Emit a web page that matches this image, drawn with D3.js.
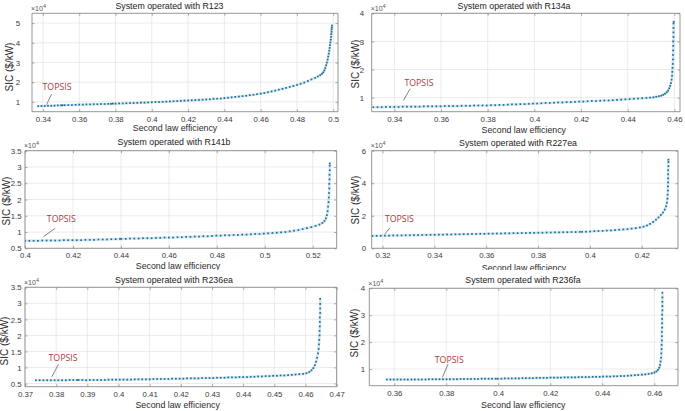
<!DOCTYPE html>
<html><head><meta charset="utf-8">
<script src="https://cdn.jsdelivr.net/npm/d3@7"></script>
<style>body{margin:0;background:#fff;} svg{display:block;}</style>
</head><body><svg id="c" width="685" height="411"></svg>
<script>
// ---------- DATA ----------
const titles = ["System operated with R123","System operated with R134a","System operated with R141b",
                "System operated with R227ea","System operated with R236ea","System operated with R236fa"];
const xLabel = "Second law efficiency";
const yLabel = "SIC ($/kW)";
const topsisLabel = "TOPSIS";
const xLimits = [[0.334,0.5026],[0.3303,0.4624],[0.4,0.53],[0.3158,0.434],[0.37,0.47],[0.3504,0.4691]];
const yLimits = [[0.5,5.5],[0.5,4],[0.5,3.5],[0,6],[0.4,3.5],[0.38,4]];
const xTickVals = [
  [0.34,0.36,0.38,0.40,0.42,0.44,0.46,0.48,0.50],
  [0.34,0.36,0.38,0.40,0.42,0.44,0.46],
  [0.40,0.42,0.44,0.46,0.48,0.50,0.52],
  [0.32,0.34,0.36,0.38,0.40,0.42],
  [0.37,0.38,0.39,0.40,0.41,0.42,0.43,0.44,0.45,0.46,0.47],
  [0.36,0.38,0.40,0.42,0.44,0.46]];
const yTickVals = [[1,2,3,4,5],[1,2,3,4],[0.5,1,1.5,2,2.5,3,3.5],[0,2,4,6],[0.5,1,1.5,2,2.5,3,3.5],[1,2,3,4]];
// SIC values in units of 1e4 $/kW
const r123 = [[0.3374,0.78],[0.3392,0.79],[0.3410,0.79],[0.3428,0.80],[0.3446,0.80],[0.3464,0.81],[0.3482,0.82],[0.3500,0.82],[0.3508,0.83],[0.3520,0.83],[0.3540,0.84],[0.3560,0.84],[0.3580,0.85],[0.3600,0.86],[0.3620,0.86],[0.3640,0.87],[0.3660,0.87],[0.3680,0.88],[0.3700,0.88],[0.3720,0.89],[0.3740,0.89],[0.3760,0.90],[0.3775,0.90],[0.3785,0.91],[0.3800,0.91],[0.3820,0.92],[0.3840,0.92],[0.3860,0.93],[0.3880,0.94],[0.3900,0.94],[0.3920,0.95],[0.3940,0.96],[0.3960,0.96],[0.3980,0.97],[0.4000,0.98],[0.4020,0.99],[0.4040,0.99],[0.4060,1.00],[0.4080,1.01],[0.4100,1.02],[0.4120,1.03],[0.4140,1.04],[0.4160,1.05],[0.4180,1.06],[0.4200,1.07],[0.4220,1.08],[0.4240,1.09],[0.4260,1.10],[0.4280,1.11],[0.4300,1.12],[0.4320,1.13],[0.4340,1.15],[0.4360,1.16],[0.4380,1.17],[0.4400,1.19],[0.4420,1.21],[0.4440,1.23],[0.4460,1.25],[0.4480,1.27],[0.4500,1.29],[0.4520,1.31],[0.4540,1.34],[0.4560,1.36],[0.4580,1.39],[0.4600,1.42],[0.4620,1.45],[0.4640,1.49],[0.4660,1.53],[0.4680,1.57],[0.4700,1.62],[0.4720,1.66],[0.4740,1.71],[0.4760,1.76],[0.4780,1.81],[0.4800,1.86],[0.4820,1.92],[0.4840,1.98],[0.4860,2.06],[0.4880,2.14],[0.4900,2.22],[0.4915,2.29],[0.4928,2.36],[0.4938,2.43],[0.4945,2.50],[0.4951,2.60],[0.4956,2.72],[0.4961,2.86],[0.4965,3.00],[0.4969,3.15],[0.4972,3.30],[0.4975,3.45],[0.4978,3.60],[0.4980,3.74],[0.4982,3.88],[0.4984,4.02],[0.4986,4.16],[0.4988,4.30],[0.4989,4.44],[0.4990,4.56],[0.4991,4.68],[0.4992,4.78],[0.4993,4.88]];
const r134a = [[0.3310,0.66],[0.3328,0.66],[0.3346,0.66],[0.3364,0.67],[0.3382,0.67],[0.3400,0.67],[0.3418,0.67],[0.3436,0.68],[0.3454,0.68],[0.3472,0.68],[0.3490,0.68],[0.3508,0.68],[0.3526,0.69],[0.3544,0.69],[0.3562,0.69],[0.3580,0.69],[0.3598,0.69],[0.3616,0.70],[0.3634,0.70],[0.3652,0.70],[0.3670,0.70],[0.3688,0.71],[0.3706,0.71],[0.3724,0.71],[0.3742,0.72],[0.3760,0.72],[0.3778,0.72],[0.3796,0.72],[0.3814,0.73],[0.3832,0.73],[0.3850,0.74],[0.3868,0.74],[0.3886,0.75],[0.3904,0.76],[0.3922,0.76],[0.3940,0.77],[0.3958,0.77],[0.3976,0.78],[0.3994,0.79],[0.4012,0.79],[0.4030,0.80],[0.4048,0.81],[0.4066,0.81],[0.4084,0.82],[0.4102,0.83],[0.4120,0.83],[0.4138,0.84],[0.4156,0.84],[0.4174,0.85],[0.4192,0.86],[0.4210,0.86],[0.4228,0.87],[0.4246,0.88],[0.4264,0.88],[0.4282,0.89],[0.4300,0.90],[0.4318,0.90],[0.4336,0.91],[0.4354,0.92],[0.4372,0.93],[0.4390,0.94],[0.4408,0.95],[0.4426,0.96],[0.4444,0.97],[0.4462,0.98],[0.4480,0.99],[0.4496,1.00],[0.4510,1.01],[0.4522,1.03],[0.4533,1.05],[0.4543,1.07],[0.4552,1.10],[0.4560,1.14],[0.4567,1.19],[0.4573,1.25],[0.4578,1.33],[0.4582,1.42],[0.4585,1.52],[0.4588,1.64],[0.4590,1.78],[0.4591,1.92],[0.4592,2.06],[0.4593,2.20],[0.4594,2.36],[0.4594,2.52],[0.4595,2.68],[0.4595,2.84],[0.4595,3.00],[0.4596,3.16],[0.4596,3.32],[0.4596,3.48],[0.4596,3.64],[0.4597,3.70]];
const r141b = [[0.4000,0.73],[0.4018,0.73],[0.4036,0.73],[0.4054,0.73],[0.4072,0.74],[0.4090,0.74],[0.4108,0.74],[0.4126,0.74],[0.4144,0.74],[0.4162,0.75],[0.4180,0.75],[0.4198,0.75],[0.4216,0.75],[0.4234,0.75],[0.4252,0.76],[0.4270,0.76],[0.4288,0.76],[0.4306,0.77],[0.4324,0.77],[0.4342,0.77],[0.4360,0.78],[0.4378,0.78],[0.4396,0.79],[0.4402,0.79],[0.4420,0.79],[0.4438,0.80],[0.4456,0.80],[0.4474,0.80],[0.4492,0.81],[0.4510,0.81],[0.4528,0.81],[0.4546,0.82],[0.4564,0.82],[0.4582,0.83],[0.4600,0.83],[0.4618,0.83],[0.4636,0.84],[0.4654,0.84],[0.4672,0.85],[0.4690,0.85],[0.4708,0.86],[0.4726,0.86],[0.4744,0.87],[0.4762,0.87],[0.4780,0.88],[0.4798,0.89],[0.4816,0.89],[0.4834,0.90],[0.4852,0.90],[0.4870,0.91],[0.4888,0.91],[0.4906,0.92],[0.4924,0.92],[0.4942,0.93],[0.4960,0.94],[0.4978,0.94],[0.4996,0.95],[0.5014,0.96],[0.5032,0.97],[0.5050,0.98],[0.5068,0.99],[0.5086,1.00],[0.5104,1.02],[0.5122,1.04],[0.5140,1.06],[0.5158,1.09],[0.5176,1.12],[0.5194,1.15],[0.5212,1.19],[0.5228,1.23],[0.5240,1.28],[0.5249,1.34],[0.5255,1.42],[0.5259,1.52],[0.5262,1.64],[0.5264,1.78],[0.5266,1.92],[0.5267,2.06],[0.5268,2.20],[0.5269,2.34],[0.5269,2.48],[0.5270,2.62],[0.5270,2.76],[0.5271,2.90],[0.5271,3.04],[0.5271,3.11]];
const r227ea = [[0.3161,0.76],[0.3177,0.77],[0.3193,0.77],[0.3209,0.78],[0.3225,0.78],[0.3241,0.79],[0.3257,0.79],[0.3273,0.79],[0.3289,0.80],[0.3305,0.80],[0.3321,0.81],[0.3337,0.81],[0.3353,0.82],[0.3369,0.82],[0.3385,0.83],[0.3401,0.83],[0.3417,0.84],[0.3433,0.84],[0.3449,0.85],[0.3465,0.85],[0.3481,0.86],[0.3497,0.86],[0.3513,0.87],[0.3529,0.87],[0.3545,0.88],[0.3561,0.88],[0.3577,0.89],[0.3593,0.89],[0.3609,0.90],[0.3625,0.90],[0.3641,0.91],[0.3657,0.91],[0.3673,0.92],[0.3689,0.92],[0.3705,0.93],[0.3721,0.93],[0.3737,0.94],[0.3753,0.94],[0.3769,0.95],[0.3785,0.95],[0.3801,0.96],[0.3817,0.96],[0.3833,0.97],[0.3849,0.97],[0.3865,0.98],[0.3881,0.98],[0.3897,0.99],[0.3913,0.99],[0.3929,1.00],[0.3945,1.00],[0.3961,1.01],[0.3970,1.01],[0.3985,1.02],[0.4001,1.03],[0.4017,1.05],[0.4033,1.06],[0.4049,1.07],[0.4065,1.09],[0.4081,1.10],[0.4097,1.12],[0.4113,1.14],[0.4129,1.16],[0.4145,1.18],[0.4161,1.21],[0.4177,1.24],[0.4193,1.28],[0.4207,1.33],[0.4220,1.40],[0.4232,1.50],[0.4244,1.62],[0.4255,1.76],[0.4265,1.90],[0.4274,2.05],[0.4282,2.20],[0.4289,2.38],[0.4294,2.58],[0.4297,2.80],[0.4299,3.05],[0.4300,3.30],[0.4301,3.55],[0.4301,3.80],[0.4302,4.05],[0.4302,4.30],[0.4302,4.55],[0.4302,4.80],[0.4303,5.05],[0.4303,5.30],[0.4303,5.45]];
const r236ea = [[0.3735,0.60],[0.3747,0.60],[0.3759,0.60],[0.3771,0.60],[0.3783,0.60],[0.3795,0.60],[0.3807,0.60],[0.3819,0.60],[0.3831,0.60],[0.3843,0.61],[0.3855,0.61],[0.3867,0.61],[0.3872,0.61],[0.3884,0.61],[0.3896,0.60],[0.3908,0.61],[0.3920,0.61],[0.3932,0.61],[0.3944,0.61],[0.3956,0.61],[0.3968,0.62],[0.3980,0.62],[0.3992,0.62],[0.4004,0.62],[0.4016,0.62],[0.4028,0.62],[0.4040,0.62],[0.4052,0.63],[0.4064,0.63],[0.4076,0.63],[0.4088,0.63],[0.4100,0.63],[0.4112,0.64],[0.4124,0.64],[0.4136,0.64],[0.4148,0.64],[0.4160,0.64],[0.4172,0.65],[0.4184,0.65],[0.4196,0.65],[0.4208,0.65],[0.4220,0.66],[0.4232,0.66],[0.4244,0.66],[0.4256,0.66],[0.4268,0.67],[0.4280,0.67],[0.4292,0.67],[0.4304,0.67],[0.4316,0.68],[0.4328,0.68],[0.4340,0.68],[0.4352,0.69],[0.4364,0.69],[0.4376,0.69],[0.4388,0.70],[0.4400,0.70],[0.4412,0.70],[0.4424,0.71],[0.4436,0.71],[0.4448,0.72],[0.4460,0.72],[0.4472,0.73],[0.4484,0.73],[0.4496,0.74],[0.4508,0.74],[0.4520,0.75],[0.4532,0.75],[0.4544,0.76],[0.4556,0.77],[0.4568,0.78],[0.4580,0.79],[0.4592,0.80],[0.4603,0.82],[0.4612,0.86],[0.4619,0.91],[0.4625,0.98],[0.4630,1.07],[0.4634,1.18],[0.4637,1.30],[0.4640,1.44],[0.4642,1.58],[0.4643,1.72],[0.4644,1.86],[0.4645,2.00],[0.4645,2.14],[0.4646,2.28],[0.4646,2.42],[0.4646,2.56],[0.4647,2.70],[0.4647,2.84],[0.4647,2.98],[0.4647,3.14]];
const r236fa = [[0.3571,0.61],[0.3585,0.61],[0.3598,0.61],[0.3612,0.61],[0.3625,0.61],[0.3639,0.61],[0.3652,0.61],[0.3666,0.61],[0.3679,0.61],[0.3693,0.61],[0.3706,0.61],[0.3720,0.61],[0.3733,0.62],[0.3747,0.62],[0.3760,0.62],[0.3774,0.62],[0.3787,0.62],[0.3801,0.62],[0.3814,0.62],[0.3828,0.62],[0.3841,0.62],[0.3855,0.63],[0.3868,0.63],[0.3882,0.63],[0.3895,0.63],[0.3909,0.63],[0.3922,0.63],[0.3936,0.64],[0.3949,0.64],[0.3963,0.64],[0.3976,0.64],[0.3990,0.64],[0.3998,0.64],[0.4012,0.64],[0.4025,0.65],[0.4039,0.65],[0.4052,0.65],[0.4066,0.65],[0.4079,0.65],[0.4093,0.66],[0.4106,0.66],[0.4120,0.66],[0.4133,0.66],[0.4147,0.67],[0.4160,0.67],[0.4174,0.67],[0.4187,0.67],[0.4201,0.68],[0.4214,0.68],[0.4228,0.68],[0.4241,0.68],[0.4255,0.69],[0.4268,0.69],[0.4282,0.69],[0.4295,0.69],[0.4309,0.70],[0.4322,0.70],[0.4336,0.70],[0.4349,0.70],[0.4363,0.71],[0.4376,0.71],[0.4390,0.71],[0.4403,0.72],[0.4417,0.72],[0.4430,0.72],[0.4444,0.73],[0.4457,0.73],[0.4471,0.74],[0.4484,0.74],[0.4498,0.75],[0.4511,0.76],[0.4525,0.77],[0.4538,0.78],[0.4552,0.79],[0.4565,0.80],[0.4578,0.82],[0.4590,0.84],[0.4600,0.87],[0.4608,0.91],[0.4614,0.97],[0.4619,1.05],[0.4622,1.15],[0.4624,1.28],[0.4626,1.42],[0.4627,1.58],[0.4628,1.74],[0.4628,1.90],[0.4629,2.06],[0.4629,2.22],[0.4629,2.38],[0.4630,2.54],[0.4630,2.70],[0.4630,2.86],[0.4630,3.02],[0.4631,3.18],[0.4631,3.34],[0.4631,3.50],[0.4631,3.66],[0.4631,3.84]];
const seriesList = [r123, r134a, r141b, r227ea, r236ea, r236fa];
const topsisPts = [[0.3420,0.80],[0.3439,0.67],[0.4077,0.74],[0.3209,0.78],[0.3786,0.60],[0.3785,0.62]];

// ---------- LAYOUT (pixels) ----------
const layout = [
 {x0:32,   x1:338,   y0:13.3,  y1:111.7, tX:169.5, tY:9,     xlX:175,   xlY:130.5, ylX:10,  ylY:67,  gap:12,  clip:[0,0,346,135],     line:[0,-1,5,-11.7],    txt:[-4,-15.3]},
 {x0:371.7,x1:680,   y0:13.3,  y1:111.7, tX:514,   tY:9,     xlX:523.8, xlY:133,   ylX:356, ylY:64,  gap:7.7, clip:[346,0,339,135],   line:[0,-6.5,6.7,-18.2], txt:[1,-20.5]},
 {x0:25,   x1:336.7, y0:150.7, y1:248.3, tX:174,   tY:144.5, xlX:178,   xlY:268.5, ylX:6.3, ylY:201, gap:3.5, clip:[0,135,346,135],   line:[0,-3.8,11.7,-12.2],txt:[3.4,-18.2]},
 {x0:371.7,x1:678,   y0:150.7, y1:248.3, tX:518,   tY:145.5, xlX:524,   xlY:270.5, ylX:356, ylY:200, gap:5.7, clip:[346,135,339,135], line:[0,-1.6,5,-7.9],    txt:[0,-13.3]},
 {x0:25,   x1:336.7, y0:287.3, y1:386.7, tX:174,   tY:282.5, xlX:177.7, xlY:407.5, ylX:5,   ylY:341, gap:3.5, clip:[0,270,346,141],   line:[0,-3.4,6.7,-16.1], txt:[-3.3,-19.4]},
 {x0:369.3,x1:678,   y0:288.3, y1:385.7, tX:523,   tY:283,   xlX:523.3, xlY:407.5, ylX:355, ylY:333, gap:4.3, clip:[346,270,339,141], line:[0,-1.9,5.7,-15.2], txt:[-7.6,-16.5]}
];

const FONT = "'Liberation Sans', Arial, Helvetica, sans-serif";
const svg = d3.select("#c");
svg.append("rect").attr("width",685).attr("height",411).attr("fill","#fff");
const defs = svg.append("defs");
const fmt = v => String(+v.toFixed(4));

layout.forEach((L, i) => {
  defs.append("clipPath").attr("id","clip"+i).append("rect")
    .attr("x",L.clip[0]).attr("y",L.clip[1]).attr("width",L.clip[2]).attr("height",L.clip[3]);
  defs.append("clipPath").attr("id","plot"+i).append("rect")
    .attr("x",L.x0).attr("y",L.y0).attr("width",L.x1-L.x0).attr("height",L.y1-L.y0);
  const g = svg.append("g").attr("clip-path",`url(#clip${i})`);
  const x = d3.scaleLinear().domain(xLimits[i]).range([L.x0, L.x1]);
  const y = d3.scaleLinear().domain(yLimits[i]).range([L.y1, L.y0]);

  // grid
  const grid = g.append("g").attr("stroke","#e2e2e2").attr("stroke-width",0.7);
  xTickVals[i].forEach(v => grid.append("line").attr("x1",x(v)).attr("x2",x(v)).attr("y1",L.y0).attr("y2",L.y1));
  yTickVals[i].forEach(v => grid.append("line").attr("y1",y(v)).attr("y2",y(v)).attr("x1",L.x0).attr("x2",L.x1));

  // axes (inward ticks) via d3 axes
  const styleAxis = sel => { sel.select(".domain").attr("stroke","#858585").attr("stroke-width",0.85);
    sel.selectAll(".tick line").attr("stroke","#858585").attr("stroke-width",0.7); };
  const ax = g.append("g").attr("transform",`translate(0,${L.y1})`)
    .call(d3.axisBottom(x).tickValues(xTickVals[i]).tickFormat(fmt).tickSize(-2.5).tickSizeOuter(0));
  ax.selectAll("text").attr("y",10).attr("dy",0).attr("fill","#3a3a3a").attr("font-size",7.8).attr("font-family",FONT);
  styleAxis(ax);
  const axT = g.append("g").attr("transform",`translate(0,${L.y0})`)
    .call(d3.axisTop(x).tickValues(xTickVals[i]).tickFormat("").tickSize(-2.5).tickSizeOuter(0));
  styleAxis(axT);
  const ay = g.append("g").attr("transform",`translate(${L.x0},0)`)
    .call(d3.axisLeft(y).tickValues(yTickVals[i]).tickFormat(fmt).tickSize(-2.5).tickSizeOuter(0));
  ay.selectAll("text").attr("x",-L.gap).attr("dy","0.34em").attr("fill","#3a3a3a").attr("font-size",7.8).attr("font-family",FONT);
  styleAxis(ay);
  const ayR = g.append("g").attr("transform",`translate(${L.x1},0)`)
    .call(d3.axisRight(y).tickValues(yTickVals[i]).tickFormat("").tickSize(-2.5).tickSizeOuter(0));
  styleAxis(ayR);
  ax.select(".domain").attr("d",`M${L.x0},0H${L.x1}`);
  axT.select(".domain").attr("d",`M${L.x0},0H${L.x1}`);
  ay.select(".domain").attr("d",`M0,${L.y0}V${L.y1}`);
  ayR.select(".domain").attr("d",`M0,${L.y0}V${L.y1}`);

  // exponent label
  const ex = g.append("text").attr("x",L.x0-1).attr("y",L.y0-2.5).attr("font-family",FONT)
    .attr("font-size",7).attr("fill","#555");
  ex.append("tspan").text("\u00d710");
  ex.append("tspan").attr("dy",-3.2).attr("font-size",5.5).text("4");

  // series
  const pg = g.append("g").attr("clip-path",`url(#plot${i})`);
  pg.append("path").datum(seriesList[i])
    .attr("d", d3.line().x(d=>x(d[0])).y(d=>y(d[1])))
    .attr("fill","none").attr("stroke","#a9d8ea").attr("stroke-width",2.6).attr("stroke-opacity",0.55);
  pg.selectAll("rect.pt").data(seriesList[i]).join("rect").attr("class","pt")
    .attr("x",d=>x(d[0])-0.85).attr("y",d=>y(d[1])-0.85).attr("width",1.7).attr("height",1.7)
    .attr("fill","#24698f");

  // TOPSIS annotation
  const px = x(topsisPts[i][0]), py = y(topsisPts[i][1]);
  g.append("line").attr("x1",px+L.line[0]).attr("y1",py+L.line[1]).attr("x2",px+L.line[2]).attr("y2",py+L.line[3])
    .attr("stroke","#333").attr("stroke-width",0.6);
  g.append("text").attr("x",px+L.txt[0]).attr("y",py+L.txt[1]).text(topsisLabel)
    .attr("font-family","'Open Sans', 'Noto Sans', sans-serif").attr("font-size",9.6)
    .attr("textLength",29).attr("lengthAdjust","spacingAndGlyphs").attr("fill","#ad3b3b");

  // titles and labels
  g.append("text").attr("x",L.tX).attr("y",L.tY).attr("text-anchor","middle").text(titles[i])
    .attr("font-family",FONT).attr("font-size",8.8).attr("fill","#1a1a1a");
  g.append("text").attr("x",L.xlX).attr("y",L.xlY).attr("text-anchor","middle").text(xLabel)
    .attr("font-family",FONT).attr("font-size",8.8).attr("fill","#2a2a2a");
  g.append("text").attr("transform",`translate(${L.ylX + 3.3},${L.ylY}) rotate(-90)`).attr("text-anchor","middle").text(yLabel)
    .attr("font-family",FONT).attr("font-size",10).attr("fill","#2a2a2a");
});
</script></body></html>
